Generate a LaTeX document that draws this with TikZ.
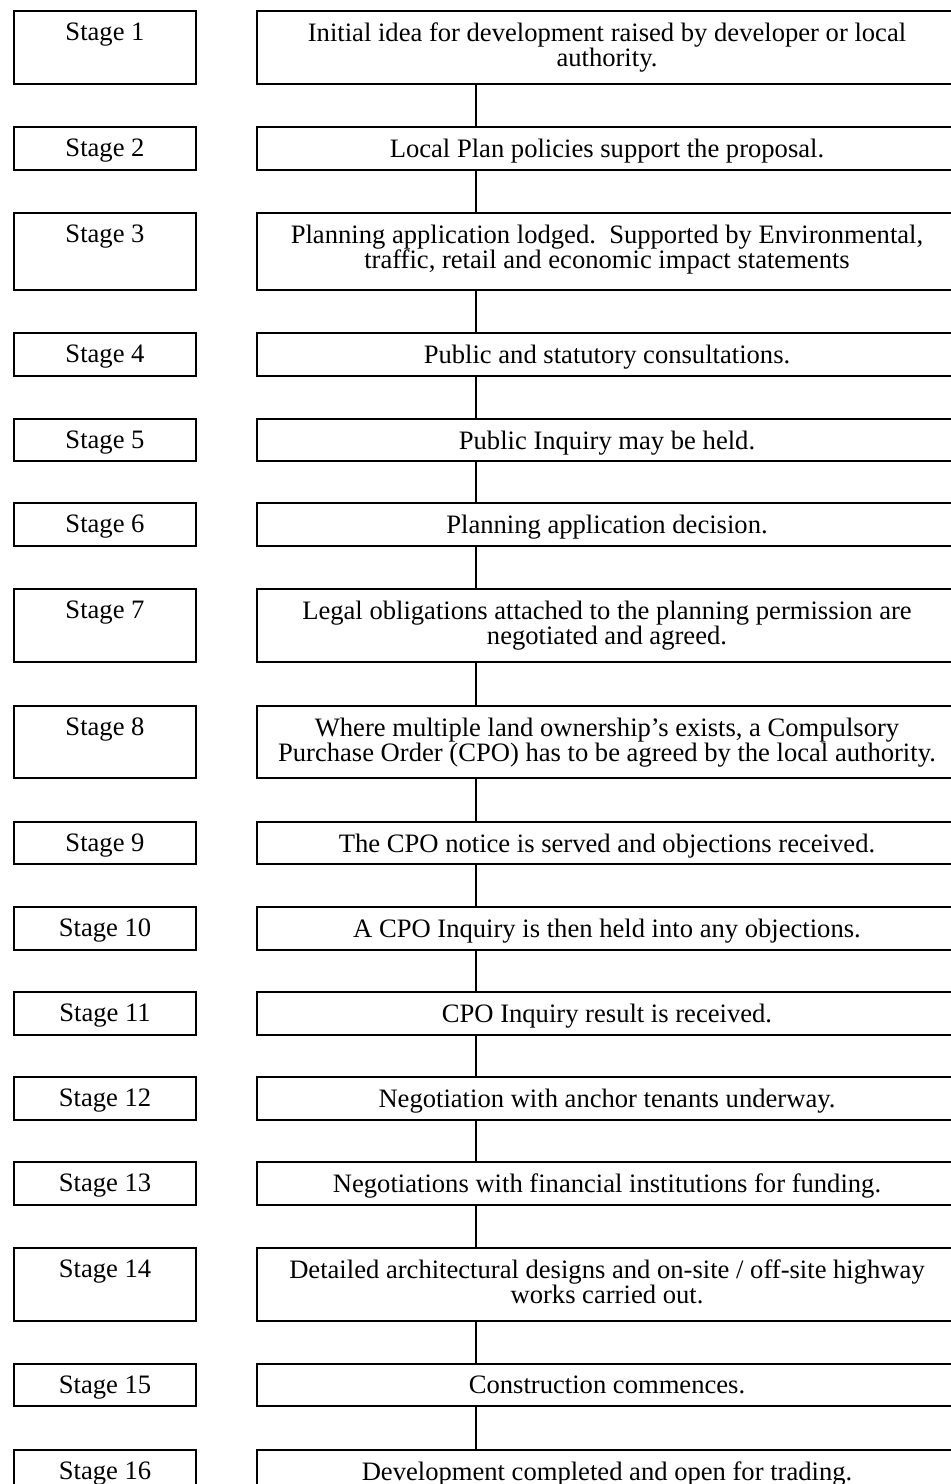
\documentclass[tikz,border=0pt]{standalone}
\usepackage{fontspec}
\setmainfont{Liberation Serif}
\begin{document}
\begin{tikzpicture}[x=0.5pt,y=-0.5pt,
  every node/.style={inner sep=0pt, outer sep=0pt},
  stagebox/.style={draw, line width=1pt, anchor=north west, minimum width=91pt},
  descbox/.style={draw, line width=1pt, anchor=north west, minimum width=350pt},
  lbl/.style={anchor=north, align=center, font=\fontsize{13.3}{12.5}\selectfont},
  conn/.style={draw, line width=1pt}]
\useasboundingbox (0,0) rectangle (951,1484);
\clip (0,0) rectangle (951,1484);
% one row per stage: number / top / height / description
\foreach \n/\t/\h/\txt in {
  1/11/73/{Initial idea for development raised by developer or local\\authority.},
  2/127/43/{Local Plan policies support the proposal.},
  3/213/77/{Planning application lodged.\ \ Supported by Environmental,\\traffic, retail and economic impact statements},
  4/333/43/{Public and statutory consultations.},
  5/419/42/{Public Inquiry may be held.},
  6/503/43/{Planning application decision.},
  7/589/73/{Legal obligations attached to the planning permission are\\negotiated and agreed.},
  8/706/72/{Where multiple land ownership’s exists, a Compulsory\\Purchase Order (CPO) has to be agreed by the local authority.},
  9/822/42/{The CPO notice is served and objections received.},
  10/907/43/{A CPO Inquiry is then held into any objections.},
  11/992/43/{CPO Inquiry result is received.},
  12/1077/43/{Negotiation with anchor tenants underway.},
  13/1162/43/{Negotiations with financial institutions for funding.},
  14/1248/73/{Detailed architectural designs and on-site / off-site highway\\works carried out.},
  15/1364/42/{Construction commences.},
  16/1450/43/{Development completed and open for trading.}}{
  \node[stagebox, minimum height={\h*0.5pt}] (s\n) at (14,\t) {};
  \node[descbox, minimum height={\h*0.5pt}] (d\n) at (257,\t) {};
  \node[lbl] (ls\n) at ([yshift=-6pt]s\n.north) {Stage \n};
  \node[lbl] (ld\n) at ([yshift=-6pt]d\n.north) {\txt};
}
% vertical links between consecutive description boxes
\foreach \a/\b in {1/2,2/3,3/4,4/5,5/6,6/7,7/8,8/9,9/10,10/11,11/12,12/13,13/14,14/15,15/16}
  \draw[conn] ([xshift=109.5pt]d\a.south west) -- ([xshift=109.5pt]d\b.north west);
\end{tikzpicture}
\end{document}
